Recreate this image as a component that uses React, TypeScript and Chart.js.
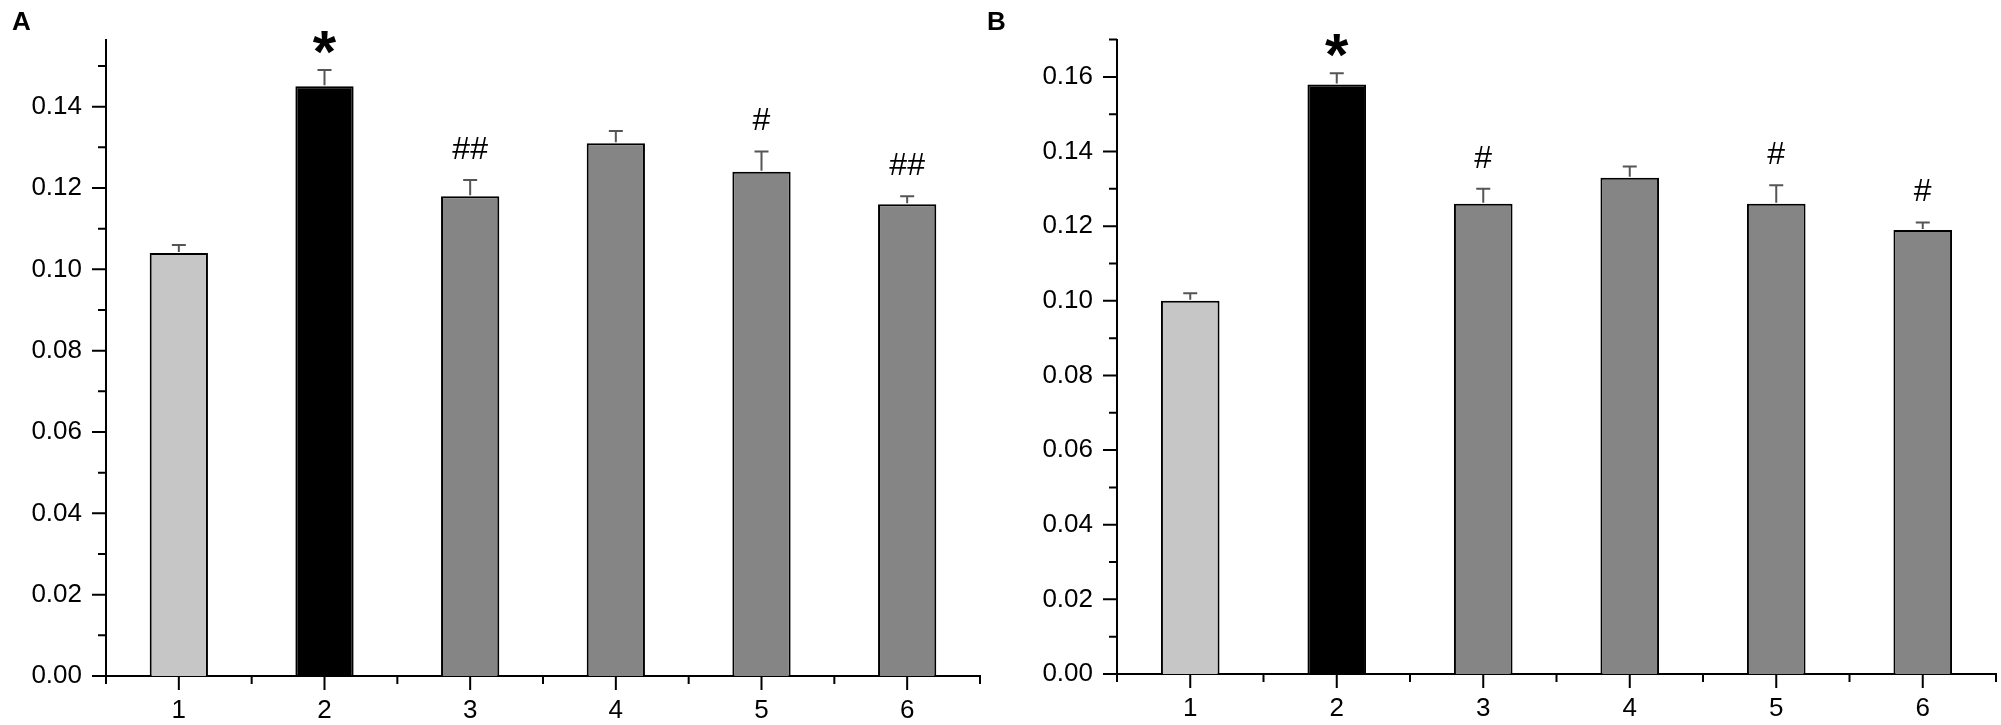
import { useEffect, useRef } from "react";
import { Chart, registerables } from "chart.js";

Chart.register(...registerables);

const groups = ["1", "2", "3", "4", "5", "6"];
const barColors = ["#c6c6c6", "#000000", "#858585", "#858585", "#858585", "#858585"];

const valuesA = [0.104, 0.145, 0.118, 0.131, 0.124, 0.116];
const errorsA = [0.002, 0.004, 0.004, 0.003, 0.005, 0.002];
const marksA = ["", "*", "##", "", "#", "##"];
const yTicksA = [0, 0.02, 0.04, 0.06, 0.08, 0.1, 0.12, 0.14];

const valuesB = [0.1, 0.158, 0.126, 0.133, 0.126, 0.119];
const errorsB = [0.002, 0.003, 0.004, 0.003, 0.005, 0.002];
const marksB = ["", "*", "#", "", "#", "#"];
const yTicksB = [0, 0.02, 0.04, 0.06, 0.08, 0.1, 0.12, 0.14, 0.16];

const FONT = "'Liberation Sans', Arial, sans-serif";
const H = 725;

type PanelProps = {
  letter: string;
  values: number[];
  errors: number[];
  marks: string[];
  yTicks: number[];
  yMax: number;
  left: number;
  width: number;
  axisLeft: number;
  top: number;
  bottom: number;
  padRight: number;
  letterX: number;
};

// axis ticks (major + minor), error bars, significance marks, panel letter
const decorations = (p: PanelProps) => ({
  id: "decorations",
  afterDatasetsDraw(chart: any) {
    const ctx = chart.ctx as CanvasRenderingContext2D;
    const x = chart.scales.x;
    const y = chart.scales.y;
    const meta = chart.getDatasetMeta(0);
    ctx.save();
    p.values.forEach((v, i) => {
      const bar = meta.data[i];
      const cx = bar.x;
      const yb = y.getPixelForValue(v);
      const ye = y.getPixelForValue(v + p.errors[i]);
      ctx.strokeStyle = "#555555";
      ctx.lineWidth = 2;
      ctx.beginPath();
      ctx.moveTo(cx, yb - 1);
      ctx.lineTo(cx, ye);
      ctx.moveTo(cx - 7, ye);
      ctx.lineTo(cx + 7, ye);
      ctx.stroke();

      const m = p.marks[i];
      if (m) {
        const star = m === "*";
        ctx.font = star ? `bold 60px ${FONT}` : `32px ${FONT}`;
        ctx.fillStyle = "#000";
        ctx.textAlign = "center";
        ctx.textBaseline = "alphabetic";
        const tm = ctx.measureText(m);
        const centerY = ye - (star ? 28 : 32);
        const baseY = centerY + (tm.actualBoundingBoxAscent - tm.actualBoundingBoxDescent) / 2;
        ctx.fillText(m, cx, baseY);
      }
    });
    ctx.restore();
  },
  afterDraw(chart: any) {
    const ctx = chart.ctx as CanvasRenderingContext2D;
    const x = chart.scales.x;
    const y = chart.scales.y;
    const area = chart.chartArea;
    ctx.save();
    ctx.strokeStyle = "#000";
    ctx.lineWidth = 2;
    ctx.beginPath();
    // y ticks
    const step = p.yTicks[1] - p.yTicks[0];
    p.yTicks.forEach((t) => {
      const py = y.getPixelForValue(t);
      ctx.moveTo(area.left - 14, py);
      ctx.lineTo(area.left, py);
      const mt = t + step / 2;
      if (mt <= p.yMax + 1e-9) {
        const pm = y.getPixelForValue(mt);
        ctx.moveTo(area.left - 8, pm);
        ctx.lineTo(area.left, pm);
      }
    });
    // x ticks
    const half = (x.getPixelForValue(1) - x.getPixelForValue(0)) / 2;
    groups.forEach((_, i) => {
      const px = x.getPixelForValue(i);
      ctx.moveTo(px, area.bottom);
      ctx.lineTo(px, area.bottom + 14);
      ctx.moveTo(px - half, area.bottom);
      ctx.lineTo(px - half, area.bottom + 8);
      if (i === groups.length - 1) {
        ctx.moveTo(px + half, area.bottom);
        ctx.lineTo(px + half, area.bottom + 8);
      }
    });
    ctx.stroke();

    ctx.font = `bold 26px ${FONT}`;
    ctx.fillStyle = "#000";
    ctx.textAlign = "left";
    ctx.textBaseline = "alphabetic";
    ctx.fillText(p.letter, p.letterX, 30);
    ctx.restore();
  },
});

const Panel = (p: PanelProps) => {
  const ref = useRef<null | HTMLCanvasElement>(null);
  useEffect(() => {
    if (!ref.current) return;
    const ctx = ref.current.getContext("2d");
    if (!ctx) throw new Error("Canvas Error: Ctx not available");
    const chart = new Chart(ctx, {
      type: "bar",
      data: {
        labels: groups,
        datasets: [
          {
            data: p.values,
            backgroundColor: barColors,
            borderColor: "#000",
            borderWidth: 2,
            barPercentage: 0.4,
            categoryPercentage: 1,
          },
        ],
      },
      options: {
        animation: false,
        responsive: false,
        maintainAspectRatio: false,
        layout: { padding: { top: p.top, right: p.padRight, left: 0, bottom: 0 } },
        plugins: { legend: { display: false }, tooltip: { enabled: false } },
        scales: {
          x: {
            type: "category",
            offset: true,
            grid: { display: false, drawTicks: false },
            border: { display: true, color: "#000", width: 2 },
            ticks: { color: "#000", font: { family: FONT, size: 26 }, padding: 19, maxRotation: 0 },
            afterFit: (s: any) => {
              s.height = H - p.bottom;
            },
          },
          y: {
            type: "linear",
            min: 0,
            max: p.yMax,
            grid: { display: false, drawTicks: false },
            border: { display: true, color: "#000", width: 2 },
            ticks: {
              color: "#000",
              font: { family: FONT, size: 26 },
              padding: 24,
              callback: (v: any) => Number(v).toFixed(2),
            },
            afterBuildTicks: (s: any) => {
              s.ticks = p.yTicks.map((v) => ({ value: v }));
            },
            afterFit: (s: any) => {
              s.width = p.axisLeft;
            },
          },
        },
      },
      plugins: [decorations(p)],
    });
    return () => chart.destroy();
  }, []);

  return (
    <canvas
      ref={ref}
      width={p.width}
      height={H}
      style={{ position: "absolute", left: p.left, top: 0, width: p.width, height: H }}
    ></canvas>
  );
};

const App = () => {
  return (
    <div style={{ position: "fixed", left: 0, top: 0, width: 2001, height: H, background: "#fff" }}>
      <Panel
        letter="A"
        values={valuesA}
        errors={errorsA}
        marks={marksA}
        yTicks={yTicksA}
        yMax={0.1565}
        left={0}
        width={990}
        axisLeft={106}
        top={37}
        bottom={676}
        padRight={10}
        letterX={12}
      />
      <Panel
        letter="B"
        values={valuesB}
        errors={errorsB}
        marks={marksB}
        yTicks={yTicksB}
        yMax={0.17}
        left={981}
        width={1020}
        axisLeft={136}
        top={36}
        bottom={674}
        padRight={5}
        letterX={6}
      />
    </div>
  );
};

export default App;
